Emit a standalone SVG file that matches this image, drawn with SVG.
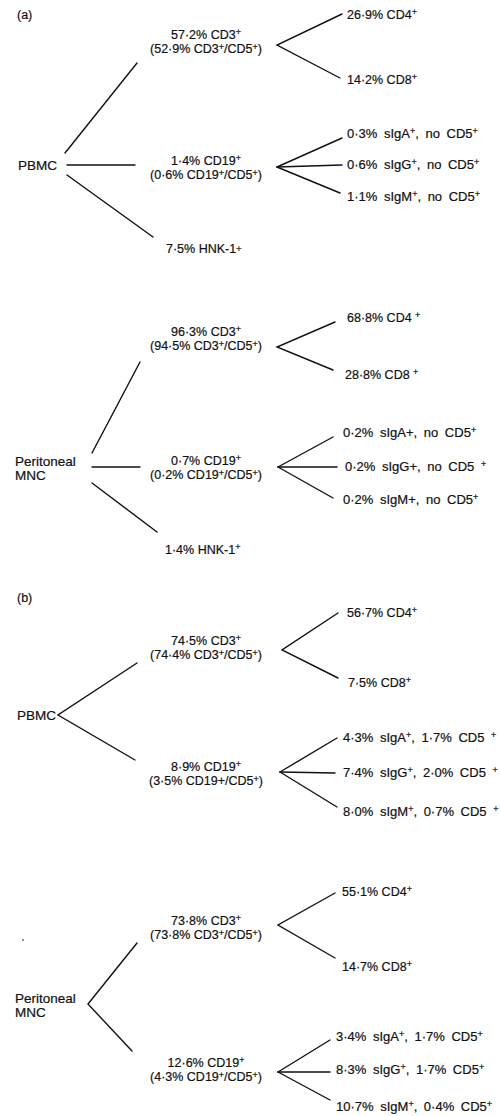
<svg xmlns="http://www.w3.org/2000/svg" width="500" height="1116" viewBox="0 0 500 1116">
<style>
text{font-family:"Liberation Sans",Arial,Helvetica,sans-serif;font-size:12.5px;fill:#111;stroke:#111;stroke-width:0.2}
.m{text-anchor:middle}
.r{font-size:13.5px}
.l{font-size:13px;word-spacing:3px}
.s{font-size:9px}
#connectors line,#connectors polyline{stroke:#111;stroke-width:1.4;fill:none;stroke-linecap:round}
</style>
<rect width="500" height="1116" fill="#fff"/>
<g id="connectors">
<line x1="137" y1="63" x2="65" y2="153"/>
<line x1="67" y1="165" x2="135" y2="165"/>
<line x1="67" y1="175" x2="153" y2="237"/>
<polyline points="342,14 277,45 340,78"/>
<line x1="277" y1="167" x2="342" y2="138"/>
<line x1="277" y1="167" x2="342" y2="165"/>
<line x1="277" y1="167" x2="340" y2="193"/>
<line x1="140" y1="362" x2="92" y2="453"/>
<line x1="92" y1="467" x2="140" y2="467"/>
<line x1="92" y1="483" x2="157" y2="532"/>
<polyline points="335,322 277,347 333,370"/>
<line x1="278" y1="467" x2="333" y2="437"/>
<line x1="278" y1="467" x2="337" y2="467"/>
<line x1="278" y1="467" x2="333" y2="498"/>
<polyline points="137,663 58,715 135,760"/>
<polyline points="338,613 282,650 338,678"/>
<line x1="280" y1="772" x2="337" y2="738"/>
<line x1="280" y1="772" x2="335" y2="773"/>
<line x1="280" y1="772" x2="337" y2="807"/>
<polyline points="137,943 88,1004 132,1051"/>
<polyline points="335,893 278,925 335,958"/>
<line x1="278" y1="1072" x2="330" y2="1040"/>
<line x1="278" y1="1072" x2="330" y2="1072"/>
<line x1="278" y1="1072" x2="330" y2="1100"/>
</g>
<g id="label-a"><text x="17" y="19">(a)</text></g>
<g id="a-pbmc"><text class="r" x="18" y="170">PBMC</text></g>
<g id="a-pbmc-cd3"><text class="m" x="206" y="39">57·2% CD3<tspan class="s" dy="-4">+</tspan></text><text class="m" x="206" y="53">(52·9% CD3<tspan class="s" dy="-3.5">+</tspan><tspan dy="3.5">/CD5</tspan><tspan class="s" dy="-3.5">+</tspan><tspan dy="3.5">)</tspan></text></g>
<g id="a-pbmc-cd4"><text x="347" y="19">26·9% CD4<tspan class="s" dy="-4">+</tspan></text></g>
<g id="a-pbmc-cd8"><text x="347" y="84">14·2% CD8<tspan class="s" dy="-4">+</tspan></text></g>
<g id="a-pbmc-cd19"><text class="m" x="206" y="165">1·4% CD19<tspan class="s" dy="-4">+</tspan></text><text class="m" x="206" y="179">(0·6% CD19<tspan class="s" dy="-3.5">+</tspan><tspan dy="3.5">/CD5</tspan><tspan class="s" dy="-3.5">+</tspan><tspan dy="3.5">)</tspan></text></g>
<g id="a-pbmc-iga"><text class="l" x="347" y="138">0·3% sIgA<tspan class="s" dy="-4">+</tspan><tspan dy="4">, no CD5</tspan><tspan class="s" dy="-4">+</tspan></text></g>
<g id="a-pbmc-igg"><text class="l" x="347" y="169">0·6% sIgG<tspan class="s" dy="-4">+</tspan><tspan dy="4">, no CD5</tspan><tspan class="s" dy="-4">+</tspan></text></g>
<g id="a-pbmc-igm"><text class="l" x="347" y="201">1·1% sIgM<tspan class="s" dy="-4">+</tspan><tspan dy="4">, no CD5</tspan><tspan class="s" dy="-4">+</tspan></text></g>
<g id="a-pbmc-hnk"><text x="166" y="253">7·5% HNK-1<tspan class="s" dy="-1">+</tspan></text></g>

<g id="a-per"><text class="r" x="15" y="466">Peritoneal</text><text class="r" x="15" y="480">MNC</text></g>
<g id="a-per-cd3"><text class="m" x="206" y="336">96·3% CD3<tspan class="s" dy="-4">+</tspan></text><text class="m" x="206" y="350">(94·5% CD3<tspan class="s" dy="-3.5">+</tspan><tspan dy="3.5">/CD5</tspan><tspan class="s" dy="-3.5">+</tspan><tspan dy="3.5">)</tspan></text></g>
<g id="a-per-cd4"><text x="347" y="322">68·8% CD4 <tspan class="s" dy="-4">+</tspan></text></g>
<g id="a-per-cd8"><text x="345" y="379">28·8% CD8 <tspan class="s" dy="-4">+</tspan></text></g>
<g id="a-per-cd19"><text class="m" x="206" y="465">0·7% CD19<tspan class="s" dy="-4">+</tspan></text><text class="m" x="206" y="479">(0·2% CD19<tspan class="s" dy="-3.5">+</tspan><tspan dy="3.5">/CD5</tspan><tspan class="s" dy="-3.5">+</tspan><tspan dy="3.5">)</tspan></text></g>
<g id="a-per-iga"><text class="l" x="343" y="437">0·2% sIgA+, no CD5<tspan class="s" dy="-4">+</tspan></text></g>
<g id="a-per-igg"><text class="l" x="345" y="471">0·2% sIgG+, no CD5 <tspan class="s" dy="-4">+</tspan></text></g>
<g id="a-per-igm"><text class="l" x="343" y="504">0·2% sIgM+, no CD5<tspan class="s" dy="-4">+</tspan></text></g>
<g id="a-per-hnk"><text x="165" y="554">1·4% HNK-1<tspan class="s" dy="-4">+</tspan></text></g>

<g id="label-b"><text x="17" y="602">(b)</text></g>
<g id="b-pbmc"><text class="r" x="17" y="720">PBMC</text></g>
<g id="b-pbmc-cd3"><text class="m" x="206" y="645">74·5% CD3<tspan class="s" dy="-4">+</tspan></text><text class="m" x="206" y="659">(74·4% CD3<tspan class="s" dy="-3.5">+</tspan><tspan dy="3.5">/CD5</tspan><tspan class="s" dy="-3.5">+</tspan><tspan dy="3.5">)</tspan></text></g>
<g id="b-pbmc-cd4"><text x="347" y="617">56·7% CD4<tspan class="s" dy="-4">+</tspan></text></g>
<g id="b-pbmc-cd8"><text x="348" y="687">7·5% CD8<tspan class="s" dy="-4">+</tspan></text></g>
<g id="b-pbmc-cd19"><text class="m" x="206" y="771">8·9% CD19<tspan class="s" dy="-4">+</tspan></text><text class="m" x="206" y="785">(3·5% CD19+/CD5<tspan class="s" dy="-3.5">+</tspan><tspan dy="3.5">)</tspan></text></g>
<g id="b-pbmc-iga"><text class="l" x="343" y="742">4·3% sIgA<tspan class="s" dy="-4">+</tspan><tspan dy="4">, 1·7% CD5 </tspan><tspan class="s" dy="-4">+</tspan></text></g>
<g id="b-pbmc-igg"><text class="l" x="343" y="777">7·4% sIgG<tspan class="s" dy="-4">+</tspan><tspan dy="4">, 2·0% CD5 </tspan><tspan class="s" dy="-4">+</tspan></text></g>
<g id="b-pbmc-igm"><text class="l" x="343" y="816">8·0% sIgM<tspan class="s" dy="-4">+</tspan><tspan dy="4">, 0·7% CD5 </tspan><tspan class="s" dy="-4">+</tspan></text></g>

<g id="b-per"><text class="r" x="15" y="1003">Peritoneal</text><text class="r" x="15" y="1017">MNC</text><circle cx="23" cy="940" r="0.8" fill="#111"/></g>
<g id="b-per-cd3"><text class="m" x="206" y="925">73·8% CD3<tspan class="s" dy="-4">+</tspan></text><text class="m" x="206" y="939">(73·8% CD3<tspan class="s" dy="-3.5">+</tspan><tspan dy="3.5">/CD5</tspan><tspan class="s" dy="-3.5">+</tspan><tspan dy="3.5">)</tspan></text></g>
<g id="b-per-cd4"><text x="342" y="896">55·1% CD4<tspan class="s" dy="-4">+</tspan></text></g>
<g id="b-per-cd8"><text x="342" y="971">14·7% CD8<tspan class="s" dy="-4">+</tspan></text></g>
<g id="b-per-cd19"><text class="m" x="206" y="1067">12·6% CD19<tspan class="s" dy="-4">+</tspan></text><text class="m" x="206" y="1081">(4·3% CD19<tspan class="s" dy="-3.5">+</tspan><tspan dy="3.5">/CD5</tspan><tspan class="s" dy="-3.5">+</tspan><tspan dy="3.5">)</tspan></text></g>
<g id="b-per-iga"><text class="l" x="336" y="1041">3·4% sIgA<tspan class="s" dy="-4">+</tspan><tspan dy="4">, 1·7% CD5</tspan><tspan class="s" dy="-4">+</tspan></text></g>
<g id="b-per-igg"><text class="l" x="336" y="1074">8·3% sIgG<tspan class="s" dy="-4">+</tspan><tspan dy="4">, 1·7% CD5</tspan><tspan class="s" dy="-4">+</tspan></text></g>
<g id="b-per-igm"><text class="l" x="336" y="1111">10·7% sIgM<tspan class="s" dy="-4">+</tspan><tspan dy="4">, 0·4% CD5</tspan><tspan class="s" dy="-4">+</tspan></text></g>
</svg>
